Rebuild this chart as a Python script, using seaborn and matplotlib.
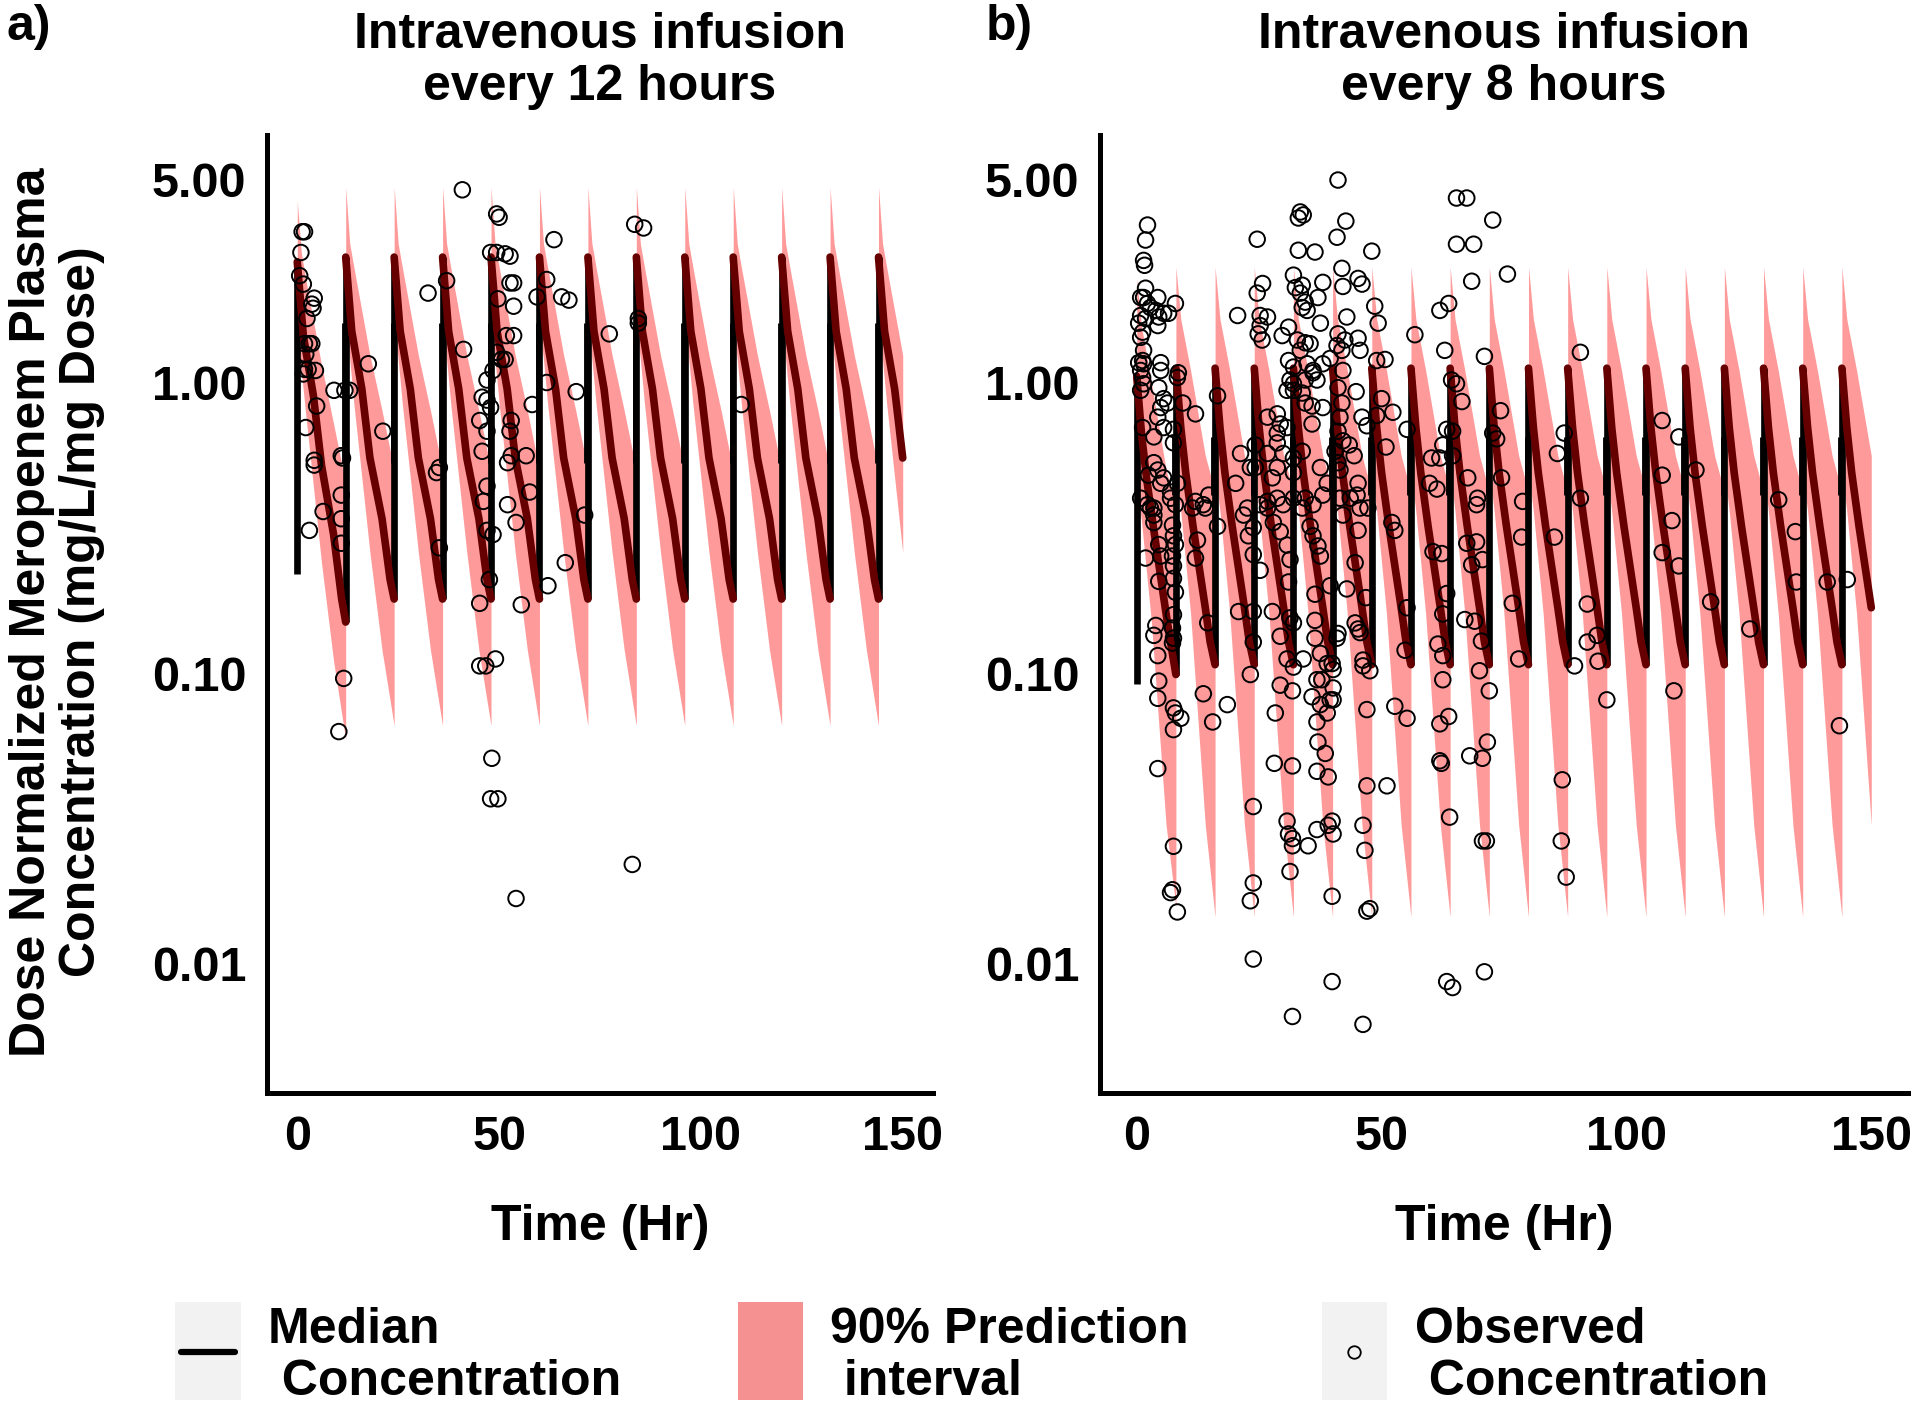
import numpy as np
import pandas as pd
import matplotlib
matplotlib.use("Agg")
import matplotlib.pyplot as plt
from matplotlib.ticker import NullLocator
from matplotlib.patches import Rectangle
from matplotlib.lines import Line2D
import seaborn as sns

# ---------------- text ----------------
panel_labels = ["a)", "b)"]
panel_titles = ["Intravenous infusion\nevery 12 hours", "Intravenous infusion\nevery 8 hours"]
y_ticks = [0.01, 0.10, 1.00, 5.00]
y_tick_labels = ["0.01", "0.10", "1.00", "5.00"]
x_ticks = [0, 50, 100, 150]
x_tick_labels = ["0", "50", "100", "150"]
x_label = "Time (Hr)"
y_label = "Dose Normalized Meropenem Plasma\nConcentration (mg/L/mg Dose)"
legend_labels = ["Median\n Concentration", "90% Prediction\n interval", "Observed\n Concentration"]
t_end = 150

# ---------------- panel a: every 12 h ----------------
dose_times_a = [0, 12, 24, 36, 48, 60, 72, 84, 96, 108, 120, 132, 144]
med_offsets_a = [0.0, 1.5, 4.0, 6.0, 9.0, 11.0, 12.0]
med_first_a = [2.6, 1.45, 0.9, 0.52, 0.30, 0.18, 0.15]
med_steady_a = [2.7, 1.5, 0.95, 0.55, 0.34, 0.21, 0.18]
start_conc_a = 0.22
inner_black_a = [0.53, 1.6]
pi_offsets_a = [0.0, 1.0, 2.0, 6.0, 9.0, 12.0]
pi_hi_first_a = [4.2, 2.8, 2.3, 1.15, 0.72, 0.45]
pi_hi_steady_a = [4.7, 3.0, 2.5, 1.24, 0.80, 0.50]
pi_lo_first_a = [1.5, 1.1, 0.8, 0.24, 0.11, 0.059]
pi_lo_steady_a = [1.6, 1.2, 0.85, 0.26, 0.12, 0.066]

obs_a = [
    (1.2, 3.3), (1.8, 3.3), (0.9, 2.8), (0.6, 2.33), (1.5, 2.18), (4.2, 1.95), (3.6, 1.86),
    (3.9, 1.8), (2.4, 1.66), (1.8, 1.36), (3.0, 1.36), (3.6, 1.36), (2.1, 1.25), (1.8, 1.11),
    (2.7, 1.11), (4.5, 1.10), (1.5, 1.07), (2.1, 0.70), (4.2, 0.54), (4.2, 0.52), (4.8, 0.83),
    (3.0, 0.31), (6.4, 0.36), (9.1, 0.94), (11.8, 0.94), (13.0, 0.94), (10.9, 0.56), (11.2, 0.55),
    (10.9, 0.41), (10.9, 0.34), (10.9, 0.28), (11.5, 0.096), (10.3, 0.063), (17.6, 1.16),
    (21.2, 0.68), (32.4, 2.03), (37.0, 2.24), (41.2, 1.30), (40.9, 4.6), (35.2, 0.51),
    (34.5, 0.49), (35.2, 0.27), (49.4, 3.8), (50.0, 3.7), (47.0, 1.02), (48.5, 1.10),
    (45.8, 0.89), (47.0, 0.87), (47.9, 0.82), (45.2, 0.74), (47.0, 0.68), (45.8, 0.58),
    (47.0, 0.44), (46.1, 0.39), (47.0, 0.31), (48.5, 0.30), (47.6, 0.21), (45.2, 0.174),
    (45.2, 0.106), (46.7, 0.106), (49.1, 0.112), (48.2, 0.051), (47.9, 0.037), (49.7, 0.037),
    (54.2, 0.0168), (47.9, 2.8), (49.4, 2.8), (51.5, 2.77), (52.7, 2.72), (52.7, 2.2),
    (53.6, 2.2), (53.6, 1.83), (49.7, 1.94), (50.6, 1.2), (51.5, 1.2), (49.4, 1.27),
    (51.8, 1.45), (53.6, 1.45), (53.0, 0.74), (52.7, 0.68), (53.0, 0.56), (52.1, 0.53),
    (56.7, 0.56), (57.6, 0.42), (52.1, 0.38), (54.2, 0.33), (55.5, 0.172), (58.2, 0.84),
    (61.8, 1.0), (69.1, 0.93), (66.4, 0.24), (71.2, 0.35), (62.1, 0.20), (63.6, 3.1),
    (61.8, 2.26), (59.4, 1.97), (65.5, 1.97), (67.3, 1.92), (77.3, 1.47), (83.6, 3.5),
    (85.8, 3.4), (84.5, 1.66), (84.5, 1.6), (83.0, 0.022), (110.0, 0.84),
]

# ---------------- panel b: every 8 h ----------------
dose_times_b = [0, 8, 16, 24, 32, 40, 48, 56, 64, 72, 80, 88, 96, 104, 112, 120, 128, 136, 144]
med_offsets_b = [0.0, 1.0, 2.0, 3.5, 6.0, 7.0, 8.0]
med_first_b = [1.05, 0.66, 0.47, 0.31, 0.16, 0.125, 0.099]
med_steady_b = [1.12, 0.70, 0.49, 0.32, 0.168, 0.128, 0.107]
start_conc_b = 0.092
inner_black_b = [0.41, 0.65]
pi_offsets_b = [0.0, 1.0, 3.0, 6.0, 8.0]
pi_hi_first_b = [2.28, 1.55, 1.0, 0.5, 0.38]
pi_hi_steady_b = [2.5, 1.65, 1.1, 0.56, 0.42]
pi_lo_first_b = [0.45, 0.33, 0.15, 0.03, 0.0157]
pi_lo_steady_b = [0.5, 0.36, 0.16, 0.03, 0.0145]

obs_b = [
    (41.1, 4.97), (33.4, 3.86), (34.0, 3.77), (33.0, 3.68), (2.2, 3.48), (1.8, 3.09), (24.6, 3.11),
    (40.9, 3.16), (33.0, 2.85), (36.4, 2.81), (1.4, 2.63), (1.6, 2.53), (32.0, 2.34), (38.0, 2.21),
    (25.7, 2.19), (24.6, 2.03), (32.4, 2.12), (33.8, 2.16), (1.8, 2.11), (1.4, 1.96), (0.8, 1.96),
    (4.3, 1.96), (7.9, 1.87), (33.4, 2.03), (37.0, 1.96), (34.4, 1.89), (33.8, 1.81), (34.8, 1.77),
    (2.2, 1.87), (2.8, 1.81), (3.9, 1.77), (5.5, 1.73), (4.5, 1.68), (0.8, 1.70), (1.8, 1.66),
    (20.6, 1.70), (25.2, 1.70), (26.7, 1.68), (25.2, 1.57), (0.4, 1.60), (4.3, 1.57), (6.5, 1.73),
    (37.5, 1.60), (29.7, 1.45), (31.0, 1.55), (24.8, 1.47), (25.6, 1.40), (32.8, 1.40), (34.4, 1.37),
    (35.4, 1.36), (33.4, 1.29), (0.8, 1.43), (1.2, 1.49), (1.4, 1.29), (1.2, 1.19), (1.4, 1.16),
    (0.4, 1.17), (4.9, 1.17), (4.9, 1.10), (8.5, 1.08), (8.3, 1.04), (31.0, 1.19), (32.0, 1.13),
    (34.8, 1.16), (36.0, 1.08), (38.0, 1.16), (39.5, 1.21), (0.8, 1.10), (1.2, 1.04), (1.4, 0.99),
    (0.8, 0.94), (31.3, 1.02), (32.0, 0.99), (34.4, 1.02), (36.0, 1.10), (36.8, 1.02), (4.5, 0.96),
    (5.5, 0.88), (4.9, 0.82), (6.3, 0.85), (9.4, 0.85), (12.0, 0.78), (16.5, 0.90), (30.7, 0.94),
    (32.0, 0.94), (33.8, 0.92), (34.4, 0.85), (35.8, 0.83), (4.3, 0.76), (5.5, 0.70), (1.2, 0.70),
    (3.5, 0.65), (7.5, 0.69), (7.5, 0.62), (35.8, 0.72), (38.0, 0.82), (26.7, 0.76), (28.7, 0.78),
    (29.3, 0.72), (28.7, 0.67), (30.7, 0.70), (24.2, 0.61), (21.2, 0.57), (23.2, 0.51), (24.2, 0.51),
    (26.7, 0.57), (28.7, 0.62), (29.9, 0.57), (32.0, 0.55), (33.8, 0.58), (28.7, 0.51), (27.7, 0.47),
    (32.0, 0.49), (3.5, 0.53), (4.3, 0.50), (5.5, 0.47), (2.4, 0.48), (4.9, 0.45), (8.3, 0.45),
    (6.9, 0.42), (14.7, 0.41), (12.0, 0.39), (13.6, 0.38), (20.2, 0.45), (37.5, 0.51), (38.9, 0.45),
    (38.0, 0.41), (36.0, 0.38), (34.4, 0.40), (22.6, 0.37), (25.2, 0.38), (26.7, 0.39), (28.7, 0.40),
    (29.9, 0.38), (32.0, 0.40), (33.8, 0.37), (0.8, 0.40), (2.2, 0.38), (3.5, 0.37), (6.9, 0.40),
    (7.9, 0.38),
    (2.8, 0.37), (3.5, 0.35), (3.5, 0.33), (7.3, 0.323), (7.5, 0.297), (7.9, 0.277), (7.3, 0.253),
    (7.5, 0.234), (7.5, 0.212), (7.9, 0.19), (7.5, 0.159), (7.3, 0.143), (7.5, 0.132), (7.3, 0.127),
    (4.5, 0.277), (4.9, 0.253), (1.8, 0.249), (4.5, 0.207), (12.4, 0.287), (12.0, 0.249), (14.0, 0.37),
    (11.4, 0.37), (16.5, 0.32), (14.5, 0.149), (13.6, 0.085), (15.5, 0.068), (18.5, 0.078),
    (3.9, 0.146), (3.5, 0.135), (4.3, 0.115), (4.5, 0.094), (4.3, 0.082), (7.5, 0.076), (7.9, 0.073),
    (9.0, 0.070), (7.5, 0.064), (4.3, 0.047), (7.5, 0.0254), (7.3, 0.018), (6.9, 0.0176), (8.3, 0.0151),
    (21.8, 0.35), (22.8, 0.297), (23.8, 0.256), (25.2, 0.226), (23.8, 0.317), (20.8, 0.163),
    (23.8, 0.163), (23.8, 0.128), (23.2, 0.099), (23.8, 0.0348), (23.8, 0.019), (23.2, 0.0165),
    (23.8, 0.0104), (26.7, 0.37), (27.9, 0.33), (29.3, 0.307), (30.7, 0.276), (31.3, 0.246),
    (31.0, 0.206), (27.7, 0.163), (29.3, 0.134), (30.7, 0.112), (32.0, 0.105), (29.3, 0.091),
    (31.8, 0.087), (28.3, 0.073), (28.1, 0.049), (31.8, 0.048), (31.3, 0.155), (32.0, 0.149),
    (34.0, 0.112), (30.7, 0.031), (31.0, 0.028), (31.8, 0.027), (31.8, 0.0255), (35.0, 0.0255),
    (31.3, 0.0208), (31.8, 0.0066), (36.4, 0.187), (36.4, 0.152), (36.4, 0.132), (37.5, 0.117),
    (38.9, 0.108), (36.8, 0.095), (37.8, 0.095), (35.8, 0.083), (37.5, 0.078), (39.5, 0.081),
    (36.8, 0.068), (38.9, 0.073), (37.0, 0.058), (38.5, 0.053), (36.8, 0.046), (39.1, 0.044),
    (39.5, 0.20), (37.5, 0.253), (35.4, 0.32), (36.0, 0.297), (37.0, 0.274), (36.8, 0.029),
    (39.1, 0.030), (40.1, 0.028), (39.9, 0.0171), (39.9, 0.0087),
    (42.1, 0.35), (45.6, 0.37), (47.2, 0.37), (45.2, 0.31), (52.1, 0.33), (52.7, 0.31), (44.6, 0.24),
    (42.9, 0.195), (46.8, 0.182), (44.6, 0.149), (45.2, 0.142), (45.6, 0.138), (41.1, 0.137),
    (40.9, 0.132), (46.2, 0.111), (46.2, 0.106), (47.6, 0.102), (39.9, 0.108), (40.1, 0.103),
    (40.1, 0.089), (40.1, 0.081), (47.0, 0.075), (52.7, 0.077), (55.2, 0.070), (55.2, 0.168),
    (54.8, 0.12), (60.5, 0.262), (62.3, 0.258), (63.3, 0.188), (62.5, 0.16), (61.5, 0.126),
    (62.5, 0.115), (62.5, 0.095), (61.9, 0.067), (63.7, 0.071), (61.9, 0.05), (62.2, 0.049),
    (63.9, 0.032), (67.4, 0.28), (69.4, 0.283), (68.4, 0.236), (70.6, 0.246), (67.0, 0.153),
    (69.0, 0.151), (70.4, 0.129), (70.0, 0.102), (72.0, 0.087), (68.0, 0.052), (70.6, 0.051),
    (71.6, 0.058), (70.6, 0.0265), (71.4, 0.0265), (71.0, 0.0094), (63.3, 0.0087), (64.5, 0.0083),
    (46.2, 0.030), (46.6, 0.0246), (47.0, 0.041), (51.1, 0.041), (39.9, 0.031), (47.0, 0.0152),
    (47.6, 0.0155), (46.2, 0.0062), (78.6, 0.294), (85.3, 0.294), (76.7, 0.174), (78.0, 0.112),
    (86.9, 0.043), (86.7, 0.0265), (87.7, 0.0199),
    (42.7, 3.59), (48.0, 2.83), (65.3, 4.31), (67.4, 4.31), (72.7, 3.62), (65.3, 2.99), (68.8, 2.99),
    (41.9, 2.47), (45.2, 2.28), (46.0, 2.18), (42.1, 2.14), (68.4, 2.23), (75.7, 2.36), (48.6, 1.83),
    (49.3, 1.60), (42.9, 1.68), (61.9, 1.77), (63.7, 1.87), (56.8, 1.46), (41.1, 1.47), (42.5, 1.40),
    (45.2, 1.42), (40.9, 1.34), (41.9, 1.29), (45.6, 1.29), (49.0, 1.19), (50.7, 1.20), (62.9, 1.29),
    (71.0, 1.23), (42.1, 1.10), (41.1, 0.96), (44.8, 0.93), (41.9, 0.85), (41.5, 0.76), (50.0, 0.88),
    (49.0, 0.77), (52.3, 0.79), (64.3, 1.02), (65.3, 0.99), (66.4, 0.86), (46.0, 0.76), (47.0, 0.71),
    (55.2, 0.69), (63.3, 0.69), (64.5, 0.68), (74.3, 0.80), (72.7, 0.67), (73.5, 0.64), (87.3, 0.67),
    (41.1, 0.68), (42.1, 0.63), (40.5, 0.58), (43.4, 0.61), (44.4, 0.56), (41.1, 0.53), (41.5, 0.50),
    (50.9, 0.60), (60.2, 0.55), (61.9, 0.55), (64.5, 0.56), (62.5, 0.61), (85.9, 0.57), (67.6, 0.47),
    (74.5, 0.47), (59.8, 0.45), (61.3, 0.43), (45.2, 0.45), (45.0, 0.41), (43.6, 0.40), (41.5, 0.40),
    (78.8, 0.39), (69.6, 0.40), (69.4, 0.38),
    (90.6, 1.27), (90.6, 0.40), (92.0, 0.173), (94.0, 0.135), (92.0, 0.128), (94.2, 0.11),
    (89.4, 0.106), (96.0, 0.081), (107.3, 0.74), (110.7, 0.65), (107.3, 0.48), (114.2, 0.50),
    (109.3, 0.335), (107.3, 0.26), (110.7, 0.234), (117.2, 0.176), (125.2, 0.142), (109.7, 0.087),
    (131.1, 0.395), (134.5, 0.307), (134.7, 0.206), (141.0, 0.206), (145.1, 0.21), (143.5, 0.066),
]

# ---------------- styles ----------------
PINK = "#FF9A9A"
PINK_KEY = "#F69191"
DARKRED = "#660000"
KEY_BG = "#F2F2F2"
FS = 35

sns.set_theme(style="white")
plt.rcParams["font.family"] = ["Liberation Sans", "DejaVu Sans"]
plt.rcParams["font.weight"] = "bold"
plt.rcParams["text.color"] = "black"


def tooth_frame(doses, offsets, first_vals, steady_vals):
    rows = []
    for i, d in enumerate(doses):
        vals = first_vals if i == 0 else steady_vals
        for o, v in zip(offsets, vals):
            if d + o <= t_end + 1e-9:
                rows.append((i, d + o, v))
    return pd.DataFrame(rows, columns=["tooth", "time", "conc"])


def band_arrays(doses, offsets, lo_first, lo_steady, hi_first, hi_steady):
    t, lo, hi = [], [], []
    for i, d in enumerate(doses):
        L = lo_first if i == 0 else lo_steady
        H = hi_first if i == 0 else hi_steady
        for o, l, h in zip(offsets, L, H):
            if d + o <= t_end + 1e-9:
                t.append(d + o)
                lo.append(l)
                hi.append(h)
    return np.array(t), np.array(lo), np.array(hi)


fig = plt.figure(figsize=(19.2, 14.08), dpi=100)
W, H = 1920.0, 1408.0
ax_a = fig.add_axes([267 / W, 1 - 1093 / H, 666 / W, 958 / H])
ax_b = fig.add_axes([1100 / W, 1 - 1093 / H, 808 / W, 958 / H])

panels = [
    (ax_a, dose_times_a, med_offsets_a, med_first_a, med_steady_a, start_conc_a, inner_black_a,
     pi_offsets_a, pi_lo_first_a, pi_lo_steady_a, pi_hi_first_a, pi_hi_steady_a, obs_a),
    (ax_b, dose_times_b, med_offsets_b, med_first_b, med_steady_b, start_conc_b, inner_black_b,
     pi_offsets_b, pi_lo_first_b, pi_lo_steady_b, pi_hi_first_b, pi_hi_steady_b, obs_b),
]

for (ax, doses, moff, mfirst, msteady, c0, inner, poff, lof, los, hif, his, obs) in panels:
    ax.set_yscale("log")
    # prediction interval
    tb, lo, hi = band_arrays(doses, poff, lof, los, hif, his)
    ax.fill_between(tb, lo, hi, color=PINK, linewidth=0, zorder=1)
    # black rise at each dose
    troughs = [c0] + [mfirst[-1]] + [msteady[-1]] * (len(doses) - 2)
    peaks = [mfirst[0]] + [msteady[0]] * (len(doses) - 1)
    ax.vlines(doses, troughs, peaks, color="black", linewidth=4.8, zorder=2)
    ax.vlines(np.array(doses[1:]) - 0.35, inner[0], inner[1], color="black", linewidth=3.5, zorder=2)
    # median decay
    med = tooth_frame(doses, moff, mfirst, msteady)
    sns.lineplot(data=med, x="time", y="conc", units="tooth", estimator=None, sort=False,
                 color=DARKRED, linewidth=5.5, ax=ax, legend=False, zorder=3)
    # observations
    od = pd.DataFrame(obs, columns=["time", "conc"])
    sns.scatterplot(data=od, x="time", y="conc", ax=ax, s=125, marker="o", legend=False, zorder=4)
    pts = ax.collections[-1]
    pts.set_facecolor("none")
    pts.set_edgecolor("black")
    pts.set_linewidth(1.4)

    ax.set_xlim(-7.5, 157.5)
    ax.set_ylim(0.0036, 7.1)
    ax.set_xticks(x_ticks)
    ax.set_xticklabels(x_tick_labels, fontsize=FS, fontweight="bold", color="black")
    ax.set_yticks(y_ticks)
    ax.set_yticklabels(y_tick_labels, fontsize=FS, fontweight="bold", color="black")
    ax.yaxis.set_minor_locator(NullLocator())
    ax.tick_params(axis="both", which="major", length=4, width=1.5, color="#333333")
    ax.tick_params(axis="y", pad=11)
    ax.tick_params(axis="x", pad=12)
    ax.set_xlabel("")
    ax.set_ylabel("")
    for s in ["top", "right"]:
        ax.spines[s].set_visible(False)
    for s in ["left", "bottom"]:
        ax.spines[s].set_linewidth(3.6)
        ax.spines[s].set_color("black")
    ax.set_facecolor("white")
    ax.grid(False)

# titles and labels
TXT = dict(fontsize=36, fontweight="bold", color="black")
fig.text(6 / W, 1 - 27 / H, panel_labels[0], ha="left", va="center", **TXT)
fig.text(986 / W, 1 - 27 / H, panel_labels[1], ha="left", va="center", **TXT)
fig.text(600 / W, 1 - 61 / H, panel_titles[0], ha="center", va="center", linespacing=1.17,
         multialignment="center", **TXT)
fig.text(1504 / W, 1 - 61 / H, panel_titles[1], ha="center", va="center", linespacing=1.17,
         multialignment="center", **TXT)
fig.text(600 / W, 1 - 1227 / H, x_label, ha="center", va="center", **TXT)
fig.text(1504 / W, 1 - 1227 / H, x_label, ha="center", va="center", **TXT)
fig.text(57 / W, 1 - 612 / H, y_label, ha="center", va="center", rotation=90, linespacing=1.1,
         multialignment="center", **TXT)

# legend
key_y0 = 1 - 1400 / H
key_h = 98 / H
fig.patches.append(Rectangle((175 / W, key_y0), 66 / W, key_h, transform=fig.transFigure,
                             facecolor=KEY_BG, edgecolor="none"))
fig.lines.append(Line2D([181 / W, 235 / W], [1 - 1352 / H, 1 - 1352 / H], transform=fig.transFigure,
                        color="black", linewidth=4.5))
fig.patches.append(Rectangle((738 / W, key_y0), 65 / W, key_h, transform=fig.transFigure,
                             facecolor=PINK_KEY, edgecolor="none"))
fig.patches.append(Rectangle((1322 / W, key_y0), 65 / W, key_h, transform=fig.transFigure,
                             facecolor=KEY_BG, edgecolor="none"))
fig.lines.append(Line2D([1354 / W], [1 - 1352 / H], transform=fig.transFigure, marker="o",
                        markersize=9, markerfacecolor="none", markeredgecolor="black",
                        markeredgewidth=1.3, linestyle="none"))
for xpix, lab in zip([268, 830, 1415], legend_labels):
    fig.text(xpix / W, 1 - 1356 / H, lab, ha="left", va="center", linespacing=1.17, **TXT)

fig.savefig("out.png", dpi=100, facecolor="white")
